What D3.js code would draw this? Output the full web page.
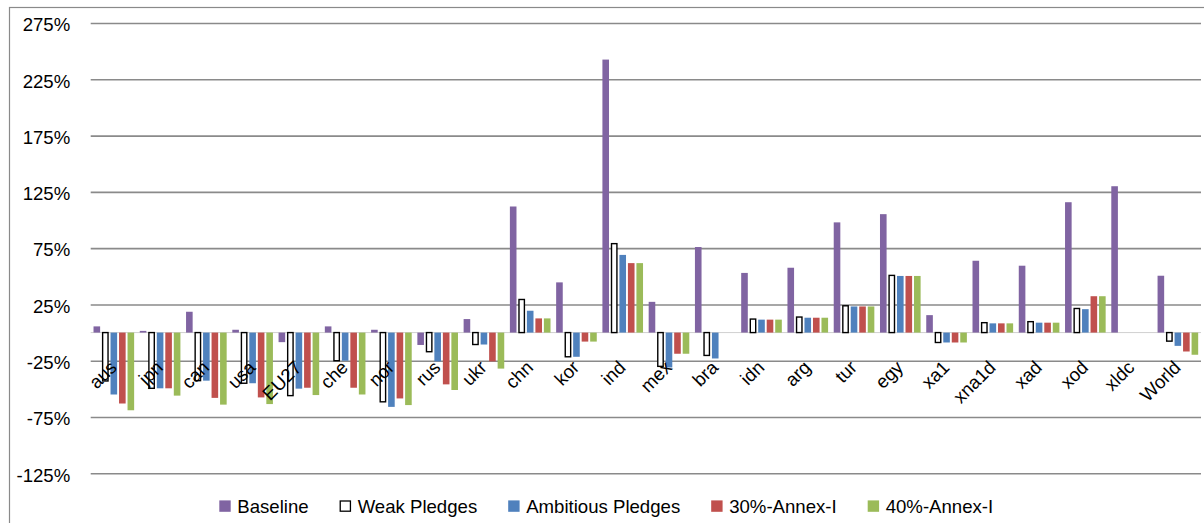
<!DOCTYPE html>
<html>
<head>
<meta charset="utf-8">
<script src="https://cdn.jsdelivr.net/npm/d3@7"></script>
<style>
  html, body { margin: 0; padding: 0; background: #fff; }
  svg { display: block; font-family: "Liberation Sans", Arial, sans-serif; }
</style>
</head>
<body>
<svg id="chart" width="1204" height="523"></svg>
<script>
// Regions / country groups on the horizontal axis
const categories = ["aus","jpn","can","usa","EU27","che","nor","rus","ukr","chn","kor","ind","mex","bra","idn","arg","tur","egy","xa1","xna1d","xad","xod","xldc","World"];

// Scenario names, in drawing order
const seriesNames = ["Baseline","Weak Pledges","Ambitious Pledges","30%-Annex-I","40%-Annex-I"];

// Percent change per region for each scenario (null = no bar)
const baseline  = [5.5, 1.5, 18.5, 2.5, -8.5, 5.5, 2.5, -11, 12, 112, 44.6, 242.5, 27.3, 76, 53, 57.6, 97.9, 105.2, 15.5, 63.8, 59.4, 115.8, 130, 50.5];
const weak      = [-43, -49.5, -42.7, -45, -56, -25, -61.5, -17, -10.6, 29.4, -21.5, 79, -30, -20.3, 12, 13.8, 23.8, 50.8, -8.8, 8.8, 9.7, 21.4, null, -7.6];
const ambitious = [-55, -49.5, -42.7, -45, -49.8, -25, -66, -25.6, -10.6, 19.4, -21.5, 69, -31, -23, 11.5, 13.2, 23.2, 50.3, -8.8, 8.2, 8.8, 20.8, null, -11.8];
const annex30   = [-63, -49.5, -58, -57.6, -49, -49, -58.5, -46, -25.6, 12.6, -8, 61.7, -18.8, null, 11.5, 13.2, 23.2, 50.3, -8.8, 8.2, 8.8, 32.3, null, -16.8];
const annex40   = [-69, -56, -64, -63.5, -55.5, -55, -64.4, -51, -32, 12.6, -8, 61.7, -18.8, null, 11.5, 13.2, 23.2, 50.3, -8.8, 8.2, 8.8, 32.3, null, -19.7];

// Value-axis tick labels
const yTicks = [-125, -75, -25, 25, 75, 125, 175, 225, 275];

const seriesValues = [baseline, weak, ambitious, annex30, annex40];
const fills   = ["#8064A2", "#FFFFFF", "#4F81BD", "#C0504D", "#9BBB59"];
const strokes = [null, "#000000", null, null, null];

const svg = d3.select("#chart");
const FONT = 18.6;

// Outer chart frame
svg.append("rect")
  .attr("x", 9.5).attr("y", 7.5)
  .attr("width", 1220).attr("height", 560)
  .attr("fill", "none").attr("stroke", "#8a8a8a").attr("stroke-width", 1.2);

const plot = { left: 90.7, right: 1201, top: 23, bottom: 473.3 };

const y = d3.scaleLinear().domain([-125, 275]).range([plot.bottom, plot.top]);
const x0 = d3.scaleBand().domain(categories).range([plot.left, plot.right]).padding(0);
const x1 = d3.scaleBand().domain(d3.range(seriesNames.length))
  .range([0, x0.bandwidth()]).paddingInner(0).paddingOuter(0.22);

// Gridlines + tick labels
const yAxis = d3.axisLeft(y)
  .tickValues(yTicks)
  .tickSize(-(plot.right - plot.left))
  .tickPadding(20.5)
  .tickFormat(d => d + "%");

const gy = svg.append("g")
  .attr("transform", `translate(${plot.left},0)`)
  .call(yAxis);
gy.select(".domain").remove();
gy.selectAll(".tick line").attr("stroke", "#8a8a8a").attr("stroke-width", 1.6);
gy.selectAll(".tick text")
  .attr("fill", "#000")
  .attr("font-size", FONT)
  .attr("font-family", "Liberation Sans, Arial, sans-serif")
  .attr("dy", "0.42em");

// Category axis line at zero
svg.append("line")
  .attr("x1", plot.left).attr("x2", plot.right)
  .attr("y1", y(0)).attr("y2", y(0))
  .attr("stroke", "#d0d0d0").attr("stroke-width", 1);

// Bars
const rows = [];
categories.forEach((c, i) => {
  seriesValues.forEach((vals, s) => {
    if (vals[i] !== null && vals[i] !== undefined) rows.push({ c, s, v: vals[i] });
  });
});

const inset = 0.95;
svg.append("g").selectAll("rect")
  .data(rows)
  .join("rect")
  .attr("x", d => x0(d.c) + x1(d.s) + inset + (strokes[d.s] ? 0.6 : 0))
  .attr("width", d => x1.bandwidth() - 2 * inset - (strokes[d.s] ? 1.2 : 0))
  .attr("y", d => Math.min(y(d.v), y(0)))
  .attr("height", d => Math.abs(y(d.v) - y(0)))
  .attr("fill", d => fills[d.s])
  .attr("stroke", d => strokes[d.s] || "none")
  .attr("stroke-width", 1.4);

// Category labels, rotated
svg.append("g").selectAll("text")
  .data(categories)
  .join("text")
  .attr("transform", d => `translate(${x0(d) + x0.bandwidth() / 2 + 4},${y(0) + 36}) rotate(-45)`)
  .attr("text-anchor", "end")
  .attr("font-size", FONT)
  .attr("fill", "#000")
  .text(d => d);

// Legend
const legend = svg.append("g");
let lx = 219.3;
const ly = 506;
seriesNames.forEach((name, s) => {
  const g = legend.append("g");
  g.append("rect")
    .attr("x", lx + (strokes[s] ? 0.6 : 0)).attr("y", ly - 5.6 + (strokes[s] ? 0.6 : 0))
    .attr("width", strokes[s] ? 10.2 : 11.4).attr("height", strokes[s] ? 10.2 : 11.4)
    .attr("fill", fills[s])
    .attr("stroke", strokes[s] || "none").attr("stroke-width", 1.3);
  const t = g.append("text")
    .attr("x", lx + 18).attr("y", ly)
    .attr("dy", "0.36em")
    .attr("font-size", FONT)
    .attr("fill", "#000")
    .text(name);
  lx += 18 + t.node().getComputedTextLength() + 31;
});
</script>
</body>
</html>
